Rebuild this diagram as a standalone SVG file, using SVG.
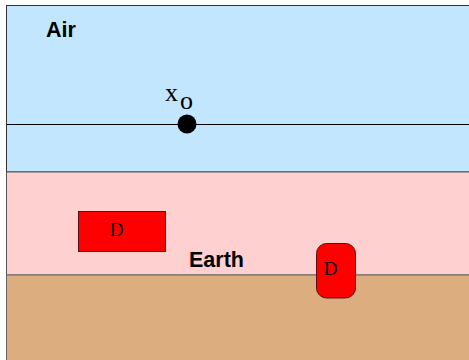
<svg xmlns="http://www.w3.org/2000/svg" width="469" height="360" viewBox="0 0 469 360">
<style>
.lbl{font-family:"Liberation Sans",Arial,sans-serif;font-weight:bold;font-size:21.5px;fill:#000}
.ser{font-family:"Liberation Serif","Times New Roman",serif;fill:#000}
.det{fill:#ff0000;stroke:#5a1010;stroke-width:1}
</style>
<rect width="469" height="360" fill="#ffffff"/>
<g id="air">
<rect x="6.5" y="5.5" width="470" height="166.5" fill="#c2e6fe" stroke="#333" stroke-width="1"/>
<text class="lbl" x="46" y="37">Air</text>
</g>
<g id="earth">
<rect x="6.5" y="172" width="470" height="103" fill="#ffd0d0" stroke="#555" stroke-width="1"/>
<text class="lbl" x="189" y="267">Earth</text>
</g>
<g id="ground">
<rect x="6.5" y="275" width="470" height="90" fill="#dcad7e" stroke="#666" stroke-width="1"/>
</g>
<g id="connectors">
<line x1="7" y1="124.5" x2="469" y2="124.5" stroke="#000" stroke-width="1.2"/>
</g>
<g id="xo">
<circle cx="187" cy="124" r="9.5" fill="#000"/>
<text class="ser" x="165" y="101" font-size="26">x</text>
<text class="ser" x="180" y="109" font-size="26">o</text>
</g>
<g id="d1">
<rect class="det" x="78.5" y="211.5" width="87" height="40"/>
<text class="ser" x="116.5" y="236" font-size="19" text-anchor="middle">D</text>
</g>
<g id="d2">
<rect class="det" x="316.5" y="243.5" width="39" height="54.5" rx="10" ry="10"/>
<text class="ser" x="330.5" y="275" font-size="19" text-anchor="middle">D</text>
</g>
</svg>
